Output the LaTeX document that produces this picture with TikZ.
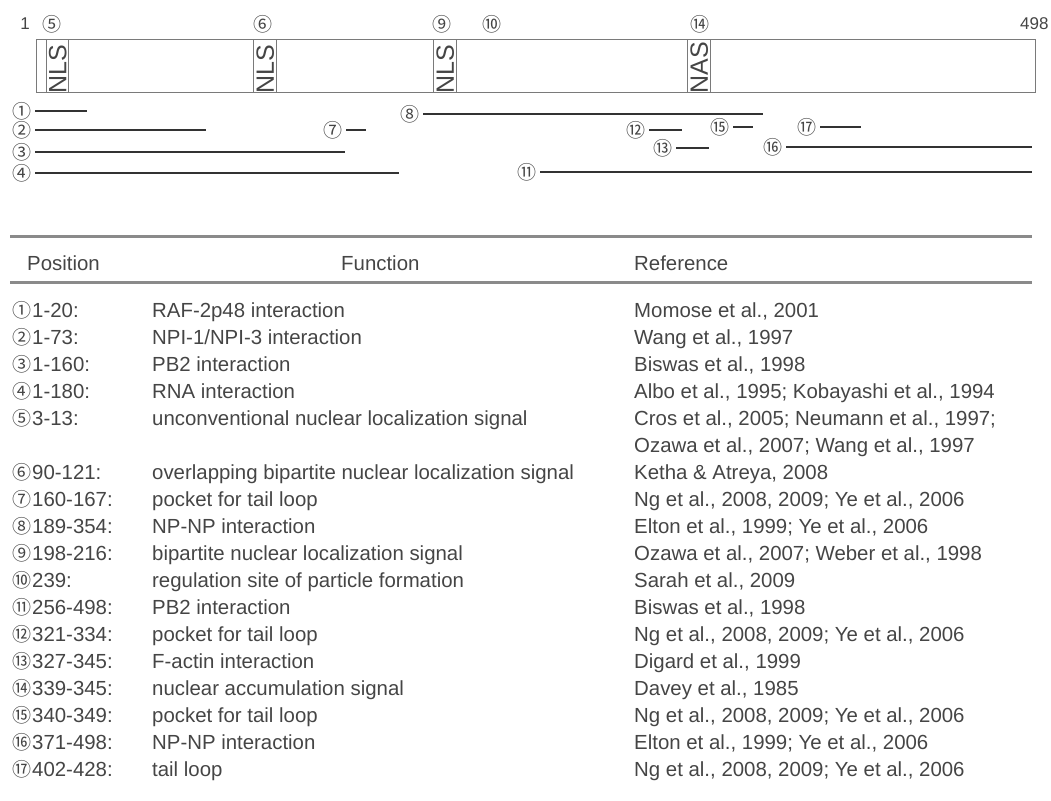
\documentclass[tikz,border=0pt]{standalone}
\usepackage{fontspec}
\setmainfont{Liberation Sans}
\newfontfamily\circfont{Noto Sans CJK SC}
\definecolor{txt}{HTML}{454545}
\definecolor{barc}{HTML}{333333}
\definecolor{boxc}{HTML}{7A7A7A}
\definecolor{rulec}{HTML}{8A8A8A}
\newcommand\trow[6]{%
  \node[tnum] (#1c) at (22,{310+27*#2}) {#3};
  \node[tx] (#1p) at (32,{317+27*#2}) {#4};
  \node[tx] (#1f) at (152,{317+27*#2}) {#5};
  \node[tx] (#1r) at (634,{317+27*#2}) {#6};
}
\newcommand\seg[5]{% name, glyph, cx, cy, end x
  \node[cnum] (#1) at (#3,#4) {#2};
  \coordinate (#1e) at (#5,#4);
  \draw[segline] ([xshift=13pt]#1.center) -- (#1e);
}
\begin{document}
\begin{tikzpicture}[x=1pt,y=-1pt,
  tx/.style={font=\fontsize{20.4}{22}\selectfont, text=txt, inner sep=0pt, anchor=base west},
  cnum/.style={font=\circfont\fontsize{19}{19}\selectfont, text=txt, inner sep=0pt},
  tnum/.style={font=\circfont\fontsize{19}{19}\selectfont, text=txt, inner sep=0pt},
  toplab/.style={font=\fontsize{17}{17}\selectfont, text=txt, inner sep=0pt},
  segline/.style={draw=barc, line width=2.6pt},
  protbox/.style={draw=boxc, line width=1.3pt, inner sep=0pt, anchor=north west},
  motif/.style={font=\fontsize{25}{25}\selectfont, text=txt, rotate=90, anchor=west, inner sep=0pt},
  hrule/.style={draw=rulec, line width=3pt}
]
\useasboundingbox (0,0) rectangle (1051,800);
% protein bar
\node[protbox, minimum width=999pt, minimum height=53pt] (prot) at (36,39) {};
\node[protbox, minimum width=22pt, minimum height=53pt] (nlsA) at (46,39) {};
\node[protbox, minimum width=23pt, minimum height=53pt] (nlsB) at (253,39) {};
\node[protbox, minimum width=23pt, minimum height=53pt] (nlsC) at (433,39) {};
\node[protbox, minimum width=23pt, minimum height=53pt] (nasA) at (687,39) {};
\node[motif] (tA) at (nlsA.south) {NLS};
\node[motif] (tB) at (nlsB.south) {NLS};
\node[motif] (tC) at (nlsC.south) {NLS};
\node[motif] (tD) at (nasA.south) {NAS};
% top labels
\node[toplab] (one) at (25,24) {1};
\node[toplab, anchor=west] (end) at (1020,24) {498};
\node[cnum] (t5) at (52,24) {⑤};
\node[cnum] (t6) at (263,24) {⑥};
\node[cnum] (t9) at (442,24) {⑨};
\node[cnum] (t10) at (492,24) {⑩};
\node[cnum] (t14) at (700,24) {⑭};
% segments
\seg{s1}{①}{22}{111}{87}
\seg{s2}{②}{22}{130}{206}
\seg{s3}{③}{22}{152}{345}
\seg{s4}{④}{22}{173}{399}
\seg{s7}{⑦}{333}{130}{366}
\seg{s8}{⑧}{410}{114}{763}
\seg{s12}{⑫}{636}{130}{682}
\seg{s15}{⑮}{720}{127}{753}
\seg{s17}{⑰}{807}{127}{861}
\seg{s13}{⑬}{663}{148}{709}
\seg{s16}{⑯}{773}{147}{1032}
\seg{s11}{⑪}{527}{172}{1032}
% table
\draw[hrule] (10,236) -- (1032,236);
\draw[hrule] (10,282) -- (1032,282);
\node[tx] (hP) at (27,270) {Position};
\node[tx] (hF) at (341,270) {Function};
\node[tx] (hR) at (634,270) {Reference};
\trow{r1}{0}{①}{1-20:}{RAF-2p48 interaction}{Momose et al., 2001}
\trow{r2}{1}{②}{1-73:}{NPI-1/NPI-3 interaction}{Wang et al., 1997}
\trow{r3}{2}{③}{1-160:}{PB2 interaction}{Biswas et al., 1998}
\trow{r4}{3}{④}{1-180:}{RNA interaction}{Albo et al., 1995; Kobayashi et al., 1994}
\trow{r5}{4}{⑤}{3-13:}{unconventional nuclear localization signal}{Cros et al., 2005; Neumann et al., 1997;}
\node[tx] (r5r2) at (634,{317+27*5}) {Ozawa et al., 2007; Wang et al., 1997};
\trow{r6}{6}{⑥}{90-121:}{overlapping bipartite nuclear localization signal}{Ketha \& Atreya, 2008}
\trow{r7}{7}{⑦}{160-167:}{pocket for tail loop}{Ng et al., 2008, 2009; Ye et al., 2006}
\trow{r8}{8}{⑧}{189-354:}{NP-NP interaction}{Elton et al., 1999; Ye et al., 2006}
\trow{r9}{9}{⑨}{198-216:}{bipartite nuclear localization signal}{Ozawa et al., 2007; Weber et al., 1998}
\trow{r10}{10}{⑩}{239:}{regulation site of particle formation}{Sarah et al., 2009}
\trow{r11}{11}{⑪}{256-498:}{PB2 interaction}{Biswas et al., 1998}
\trow{r12}{12}{⑫}{321-334:}{pocket for tail loop}{Ng et al., 2008, 2009; Ye et al., 2006}
\trow{r13}{13}{⑬}{327-345:}{F-actin interaction}{Digard et al., 1999}
\trow{r14}{14}{⑭}{339-345:}{nuclear accumulation signal}{Davey et al., 1985}
\trow{r15}{15}{⑮}{340-349:}{pocket for tail loop}{Ng et al., 2008, 2009; Ye et al., 2006}
\trow{r16}{16}{⑯}{371-498:}{NP-NP interaction}{Elton et al., 1999; Ye et al., 2006}
\trow{r17}{17}{⑰}{402-428:}{tail loop}{Ng et al., 2008, 2009; Ye et al., 2006}
\end{tikzpicture}
\end{document}
